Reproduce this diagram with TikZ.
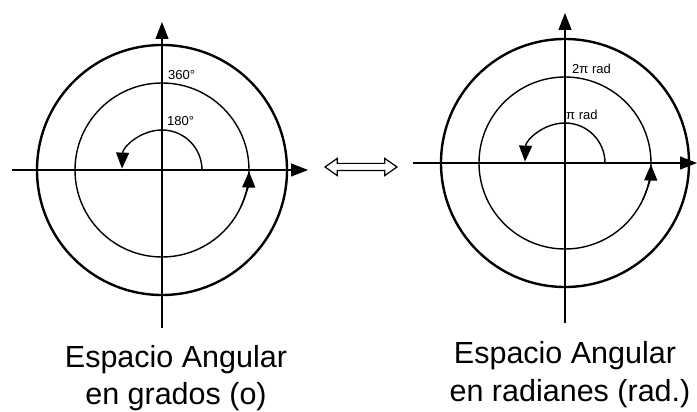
\documentclass[tikz,border=0pt]{standalone}
\usepackage{fontspec}
\setmainfont{Liberation Sans}
\usetikzlibrary{arrows.meta,shapes.arrows}

\begin{document}
\begin{tikzpicture}[x=1pt, y=1pt, >={Triangle[length=17pt,width=13pt]},
  axis/.style={->, line width=1.1pt},
  ring/.style={line width=2.4pt},
  orbit/.style={line width=1.4pt},
  turn/.style={-{Triangle[length=16pt,width=13pt]}, line width=1.4pt},
  tag/.style={font=\fontsize{13}{13}\selectfont, inner sep=0pt},
  caption/.style={font=\fontsize{30.5}{38}\selectfont, anchor=base, inner sep=0pt}]
  \useasboundingbox (0,0) rectangle (697,412);

  % left: degrees
  \coordinate (gO) at (162,242);
  \coordinate (gW) at (12,242);
  \coordinate (gE) at (308,242);
  \coordinate (gS) at (162,84);
  \coordinate (gN) at (162,390);
  \draw[axis] (gW) -- (gE);
  \draw[axis] (gS) -- (gN);
  \draw[ring] (gO) circle (125);
  \draw[orbit] (gO) circle (87);
  \draw[turn] ([shift={(-25:87)}]gO) arc (-25:-1:87);
  \draw[turn] ([shift={(0:40)}]gO) arc (0:178:40);
  \node[tag, anchor=south west] (g360) at ([shift={(6,90)}]gO) {360°};
  \node[tag, anchor=south west] (g180) at ([shift={(5,44)}]gO) {180°};

  % middle
  \node[draw, double arrow, line width=1.2pt, inner sep=3pt, minimum height=72pt,
        double arrow head extend=5pt, double arrow tip angle=70] (swap) at (361,245) {};

  % right: radians
  \coordinate (rO) at (565,249);
  \coordinate (rW) at (413,249);
  \coordinate (rE) at (697,249);
  \coordinate (rS) at (565,89);
  \coordinate (rN) at (565,399);
  \draw[axis] (rW) -- (rE);
  \draw[axis] (rS) -- (rN);
  \draw[ring] (rO) circle (124);
  \draw[orbit] (rO) circle (86);
  \draw[turn] ([shift={(-25:86)}]rO) arc (-25:-1:86);
  \draw[turn] ([shift={(0:40)}]rO) arc (0:178:40);
  \node[tag, anchor=south west] (r2pi) at ([shift={(7,89)}]rO) {2π rad};
  \node[tag, anchor=south west] (rpi) at ([shift={(1,43)}]rO) {π rad};

  % captions
  \node[caption] (gcap) at (176,44) {Espacio Angular};
  \node[caption] (gunit) at (176,7.5) {en grados (o)};
  \node[caption] (rcap) at (565,48) {Espacio Angular};
  \node[caption] (runit) at (570,10) {en radianes (rad.)};
\end{tikzpicture}
\end{document}
